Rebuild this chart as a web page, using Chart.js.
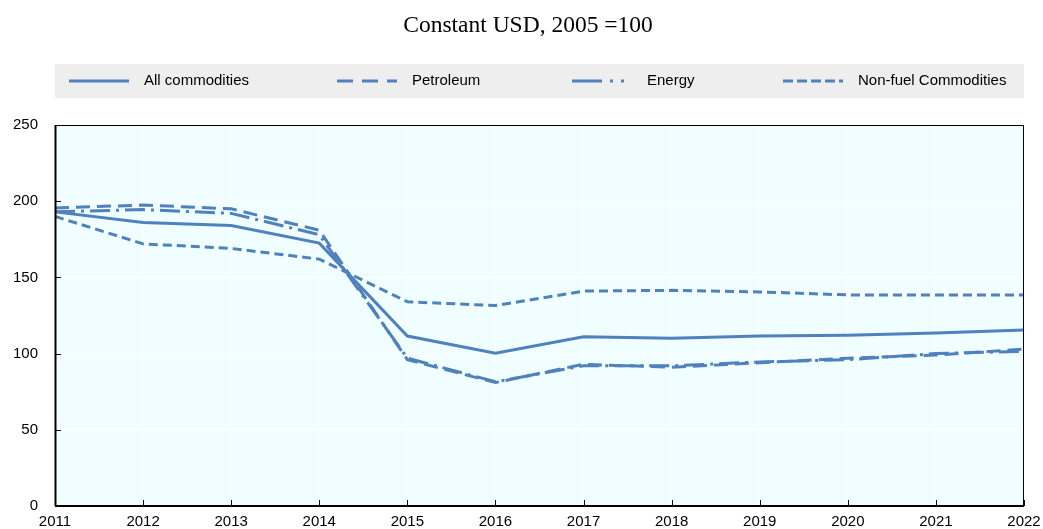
<!DOCTYPE html>
<html>
<head>
<meta charset="utf-8">
<script src="https://cdn.jsdelivr.net/npm/chart.js@4/dist/chart.umd.min.js"></script>
<style>
  html, body { margin: 0; padding: 0; background: #ffffff; }
  #wrap { width: 1043px; height: 529px; position: relative; }
</style>
</head>
<body>
<div id="wrap"><canvas id="c" width="1043" height="529"></canvas></div>
<script>
const years = ['2011','2012','2013','2014','2015','2016','2017','2018','2019','2020','2021','2022'];
const allCommodities = [193, 186, 184, 172.5, 111.5, 100.3, 111, 110, 111.5, 112, 113.5, 115.5];
const petroleum      = [195.5, 197.5, 195, 181, 96, 81, 93, 91, 94, 97, 99, 103];
const energy         = [193, 194.5, 192, 178, 97, 81.5, 92, 92, 94.5, 96, 100, 101.5];
const nonFuel        = [190, 172, 169, 162, 134, 131.5, 141, 141.5, 140.5, 138.5, 138.5, 138.5];
const seriesNames = ['All commodities', 'Petroleum', 'Energy', 'Non-fuel Commodities'];
const yTicks = [0, 50, 100, 150, 200, 250];
const titleText = 'Constant USD, 2005 =100';

const LINE = '#4f81bd';
const dashes = [[], [14, 7], [20, 6, 3, 6], [9, 5]];
const legendDashes = [[], [16, 9], [30, 8, 3, 8, 3, 8], [10, 4]];

const decor = {
  id: 'decor',
  beforeDraw(chart) {
    const ctx = chart.ctx, a = chart.chartArea;
    ctx.save();
    ctx.fillStyle = '#ffffff';
    ctx.fillRect(0, 0, chart.width, chart.height);
    ctx.fillStyle = '#f0feff';
    ctx.fillRect(a.left, a.top, a.right - a.left, a.bottom - a.top);
    // title
    ctx.fillStyle = '#000';
    ctx.font = '23.5px "Liberation Serif", "Times New Roman", serif';
    ctx.textAlign = 'center';
    ctx.textBaseline = 'middle';
    ctx.fillText(titleText, 528, 26);
    // legend
    ctx.fillStyle = '#eeeeee';
    ctx.fillRect(a.left, 64, a.right - a.left, 34);
    const xs = [69, 337, 572, 783];
    ctx.font = '15px "Liberation Sans", Arial, sans-serif';
    ctx.textAlign = 'left';
    for (let i = 0; i < 4; i++) {
      ctx.strokeStyle = LINE;
      ctx.lineWidth = 3;
      ctx.setLineDash(legendDashes[i]);
      ctx.beginPath();
      ctx.moveTo(xs[i], 81);
      ctx.lineTo(xs[i] + 60, 81);
      ctx.stroke();
      ctx.setLineDash([]);
      ctx.fillStyle = '#000';
      ctx.fillText(seriesNames[i], xs[i] + 75, 81);
    }
    ctx.restore();
  },
  afterDatasetsDraw(chart) {
    const ctx = chart.ctx, a = chart.chartArea;
    const xs = chart.scales.x, ys = chart.scales.y;
    ctx.save();
    ctx.strokeStyle = '#000';
    ctx.lineWidth = 1;
    ctx.strokeRect(a.left + 0.5, a.top + 0.5, a.right - a.left - 1, a.bottom - a.top - 1);
    ctx.lineWidth = 2;
    ctx.beginPath();
    ctx.moveTo(a.left, a.bottom);
    ctx.lineTo(a.right, a.bottom);
    ctx.moveTo(a.left + 0.5, a.top);
    ctx.lineTo(a.left + 0.5, a.bottom);
    ctx.stroke();
    ctx.lineWidth = 1;
    ctx.beginPath();
    for (let i = 0; i < years.length; i++) {
      const x = Math.round(xs.getPixelForValue(i)) + 0.5;
      ctx.moveTo(x, a.bottom);
      ctx.lineTo(x, a.bottom - 6);
    }
    for (const v of yTicks) {
      const y = Math.round(ys.getPixelForValue(v)) + 0.5;
      ctx.moveTo(a.left, y);
      ctx.lineTo(a.left + 6, y);
    }
    ctx.stroke();
    ctx.restore();
  }
};

const data = [allCommodities, petroleum, energy, nonFuel];
new Chart(document.getElementById('c'), {
  type: 'line',
  data: {
    labels: years,
    datasets: data.map((d, i) => ({
      label: seriesNames[i],
      data: d,
      borderColor: LINE,
      backgroundColor: LINE,
      borderWidth: 3,
      borderDash: dashes[i],
      pointRadius: 0,
      tension: 0,
      fill: false
    }))
  },
  options: {
    responsive: false,
    animation: false,
    devicePixelRatio: 1,
    layout: { padding: { top: 125, right: 19, left: 0, bottom: 0 } },
    plugins: { legend: { display: false }, title: { display: false }, tooltip: { enabled: false } },
    scales: {
      x: {
        type: 'category',
        offset: false,
        grid: { color: '#ffffff', lineWidth: 1, drawTicks: false },
        border: { display: false },
        ticks: { color: '#000', font: { family: '"Liberation Sans", Arial, sans-serif', size: 15 }, padding: 7, maxRotation: 0, autoSkip: false },
        afterFit(s) { s.height = 23; s.paddingLeft = 0; s.paddingRight = 0; }
      },
      y: {
        min: 0, max: 250,
        afterBuildTicks(s) { s.ticks = yTicks.map(v => ({ value: v })); },
        grid: { color: '#ffffff', lineWidth: 1, drawTicks: false },
        border: { display: false },
        ticks: { color: '#000', font: { family: '"Liberation Sans", Arial, sans-serif', size: 15 }, padding: 17 },
        afterFit(s) { s.width = 55; s.paddingTop = 0; s.paddingBottom = 0; }
      }
    }
  },
  plugins: [decor]
});
</script>
</body>
</html>
